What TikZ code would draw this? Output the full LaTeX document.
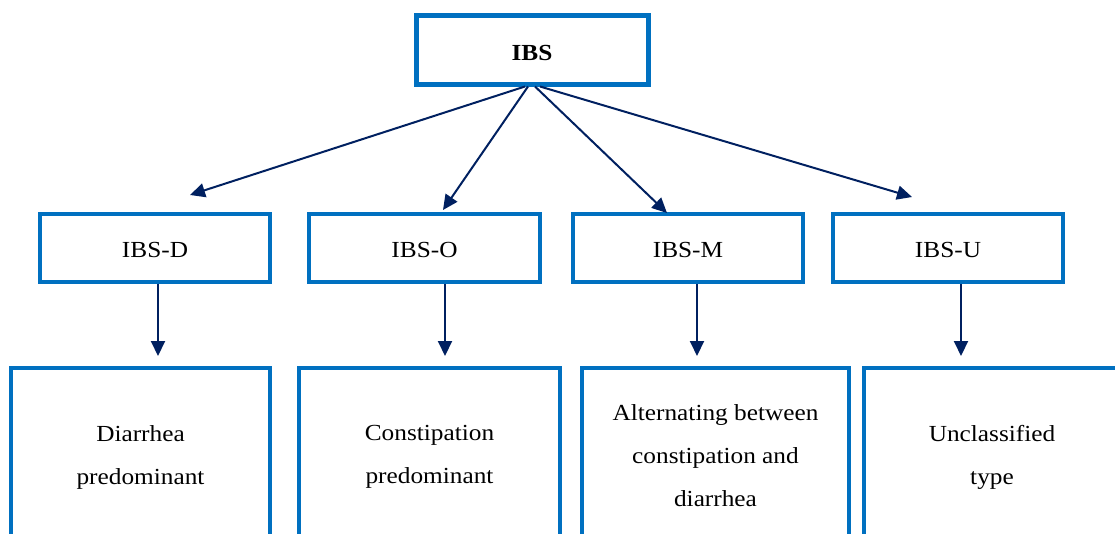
\documentclass[tikz,border=0pt]{standalone}
\usepackage{fontspec}
\setmainfont{Liberation Serif}[FakeStretch=1.1]
\usetikzlibrary{arrows.meta,calc}
\definecolor{boxblue}{RGB}{0,112,192}
\definecolor{navy}{RGB}{0,32,96}
\begin{document}
\begin{tikzpicture}[x=1pt,y=-1pt,
  box/.style={draw=boxblue,line width=3.5pt,fill=white,inner sep=0pt,align=center},
  lab/.style={font=\fontsize{23}{43}\selectfont,align=center,inner sep=0pt},
  conn/.style={draw=navy,line width=2pt,-{Triangle[length=15pt,width=14pt]}}]
\useasboundingbox (0,0) rectangle (1115,533);
\clip (0,0) rectangle (1115,533);
% top
\node[box,line width=5pt,minimum width=232pt,minimum height=69pt] (ibs) at (532,49.5) {};
\node[lab,font=\fontsize{23}{43}\selectfont\bfseries] (ibst) at ($(ibs.center)+(0,3)$) {IBS};
% second row
\node[box,minimum width=230pt,minimum height=68pt] (d) at (155,248) {};
\node[box,minimum width=231pt,minimum height=68pt] (o) at (424.5,248) {};
\node[box,minimum width=230pt,minimum height=68pt] (m) at (688,248) {};
\node[box,minimum width=230pt,minimum height=68pt] (u) at (948,248) {};
\node[lab] (dt) at ($(d.center)+(0,2)$) {IBS-D};
\node[lab] (ot) at ($(o.center)+(0,2)$) {IBS-O};
\node[lab] (mt) at ($(m.center)+(0,2)$) {IBS-M};
\node[lab] (ut) at ($(u.center)+(0,2)$) {IBS-U};
% bottom row
\node[box,minimum width=259pt,minimum height=172pt] (dd) at (140.5,454) {};
\node[box,minimum width=261pt,minimum height=172pt] (oo) at (429.5,454) {};
\node[box,minimum width=267pt,minimum height=172pt] (mm) at (715.5,454) {};
\node[box,minimum width=256pt,minimum height=172pt] (uu) at (992,454) {};
\node[lab] (ddt) at ($(dd.center)+(0,3)$) {Diarrhea\\predominant};
\node[lab] (oot) at ($(oo.center)+(0,3)$) {Constipation\\predominant};
\node[lab] (mmt) at ($(mm.center)+(0,2)$) {Alternating between\\constipation and\\diarrhea};
\node[lab] (uut) at ($(uu.center)+(0,3)$) {Unclassified\\type};
% arrow ends
\coordinate (ed) at (190,195);
\coordinate (eo) at (443,210);
\coordinate (em) at (667,213);
\coordinate (eu) at (912,197);
\draw[conn] ($(ibs.south)+(-7,0)$) -- (ed);
\draw[conn] ($(ibs.south)+(-4,0)$) -- (eo);
\draw[conn] ($(ibs.south)+(3,0)$) -- (em);
\draw[conn] ($(ibs.south)+(8,0)$) -- (eu);
% vertical arrows
\coordinate (vd) at (158,356);
\coordinate (vo) at (445,356);
\coordinate (vm) at (697,356);
\coordinate (vu) at (961,356);
\draw[conn] (d.south -| vd) -- (vd);
\draw[conn] (o.south -| vo) -- (vo);
\draw[conn] (m.south -| vm) -- (vm);
\draw[conn] (u.south -| vu) -- (vu);
\end{tikzpicture}
\end{document}
